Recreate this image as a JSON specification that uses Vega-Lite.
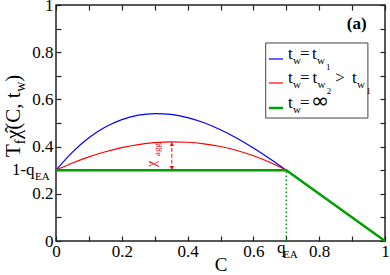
{
  "$schema": "https://vega.github.io/schema/vega-lite/v6.json",
  "width": 329,
  "height": 236,
  "autosize": {"type": "none"},
  "padding": {"left": 56, "top": 5, "right": 5, "bottom": 34},
  "background": "white",
  "config": {
    "view": {"stroke": "#222", "strokeWidth": 1.5},
    "font": "Liberation Serif",
    "axis": {
      "domain": false, "grid": false,
      "labelFont": "Liberation Serif", "labelFontSize": 17, "labelColor": "black",
      "tickColor": "#222", "tickWidth": 1.2,
      "labelFlush": false, "labelOverlap": false, "labelBound": false,
      "titleFont": "Liberation Serif", "titleFontWeight": "normal", "titleColor": "black"
    }
  },
  "datasets": {
    "curves": [
      {"C": 0.0, "v": 0.3, "series": "b", "seg": "curve"},
      {"C": 0.05, "v": 0.3766, "series": "b", "seg": "curve"},
      {"C": 0.1, "v": 0.4371, "series": "b", "seg": "curve"},
      {"C": 0.15, "v": 0.4827, "series": "b", "seg": "curve"},
      {"C": 0.2, "v": 0.5143, "series": "b", "seg": "curve"},
      {"C": 0.25, "v": 0.533, "series": "b", "seg": "curve"},
      {"C": 0.3, "v": 0.54, "series": "b", "seg": "curve"},
      {"C": 0.35, "v": 0.5362, "series": "b", "seg": "curve"},
      {"C": 0.4, "v": 0.5229, "series": "b", "seg": "curve"},
      {"C": 0.45, "v": 0.5009, "series": "b", "seg": "curve"},
      {"C": 0.5, "v": 0.4714, "series": "b", "seg": "curve"},
      {"C": 0.55, "v": 0.4355, "series": "b", "seg": "curve"},
      {"C": 0.6, "v": 0.3943, "series": "b", "seg": "curve"},
      {"C": 0.65, "v": 0.3487, "series": "b", "seg": "curve"},
      {"C": 0.7, "v": 0.3, "series": "b", "seg": "curve"},
      {"C": 0.0, "v": 0.3, "series": "r", "seg": "curve"},
      {"C": 0.05, "v": 0.3303, "series": "r", "seg": "curve"},
      {"C": 0.1, "v": 0.3563, "series": "r", "seg": "curve"},
      {"C": 0.15, "v": 0.3781, "series": "r", "seg": "curve"},
      {"C": 0.2, "v": 0.3955, "series": "r", "seg": "curve"},
      {"C": 0.25, "v": 0.4083, "series": "r", "seg": "curve"},
      {"C": 0.3, "v": 0.4165, "series": "r", "seg": "curve"},
      {"C": 0.35, "v": 0.42, "series": "r", "seg": "curve"},
      {"C": 0.4, "v": 0.4184, "series": "r", "seg": "curve"},
      {"C": 0.45, "v": 0.4119, "series": "r", "seg": "curve"},
      {"C": 0.5, "v": 0.4003, "series": "r", "seg": "curve"},
      {"C": 0.55, "v": 0.3834, "series": "r", "seg": "curve"},
      {"C": 0.6, "v": 0.3611, "series": "r", "seg": "curve"},
      {"C": 0.65, "v": 0.3334, "series": "r", "seg": "curve"},
      {"C": 0.7, "v": 0.3, "series": "r", "seg": "curve"},
      {"C": 0.647, "v": 0.7712, "series": "b", "seg": "legend"},
      {"C": 0.69, "v": 0.7712, "series": "b", "seg": "legend"},
      {"C": 0.647, "v": 0.6695, "series": "r", "seg": "legend"},
      {"C": 0.69, "v": 0.6695, "series": "r", "seg": "legend"}
    ],
    "green": [
      {"C": 0.0, "v": 0.3, "seg": "curve"},
      {"C": 0.7, "v": 0.3, "seg": "curve"},
      {"C": 1.0, "v": 0.0, "seg": "curve"},
      {"C": 0.647, "v": 0.5636, "seg": "legend"},
      {"C": 0.69, "v": 0.5636, "seg": "legend"}
    ],
    "dotted": [{"C": 0.7, "v": 0.0, "v2": 0.3}],
    "arrow": [{"C": 0.352, "v": 0.302, "v2": 0.418}],
    "heads": [
      {"C": 0.352, "v": 0.41, "dir": "up"},
      {"C": 0.352, "v": 0.31, "dir": "down"}
    ],
    "box": [{"x": 0.6374, "x2": 0.948, "y": 0.839, "y2": 0.521}],
    "texts": [
      {"x": 0.705, "y": 0.7712, "t": "t", "role": "lg"},
      {"x": 0.72, "y": 0.75, "t": "w", "role": "ls"},
      {"x": 0.742, "y": 0.7712, "t": "=", "role": "lg"},
      {"x": 0.778, "y": 0.7712, "t": "t", "role": "lg"},
      {"x": 0.793, "y": 0.75, "t": "w", "role": "ls"},
      {"x": 0.821, "y": 0.7246, "t": "1", "role": "lss"},
      {"x": 0.705, "y": 0.6695, "t": "t", "role": "lg"},
      {"x": 0.72, "y": 0.6483, "t": "w", "role": "ls"},
      {"x": 0.742, "y": 0.6695, "t": "=", "role": "lg"},
      {"x": 0.78, "y": 0.6695, "t": "t", "role": "lg"},
      {"x": 0.795, "y": 0.6483, "t": "w", "role": "ls"},
      {"x": 0.823, "y": 0.6229, "t": "2", "role": "lss"},
      {"x": 0.849, "y": 0.6695, "t": ">", "role": "lg"},
      {"x": 0.9, "y": 0.6695, "t": "t", "role": "lg"},
      {"x": 0.915, "y": 0.6483, "t": "w", "role": "ls"},
      {"x": 0.943, "y": 0.6229, "t": "1", "role": "lss"},
      {"x": 0.705, "y": 0.5636, "t": "t", "role": "lg"},
      {"x": 0.72, "y": 0.5424, "t": "w", "role": "ls"},
      {"x": 0.742, "y": 0.5636, "t": "=", "role": "lg"},
      {"x": 0.775, "y": 0.5636, "t": "∞", "role": "inf"},
      {"x": 0.884, "y": 0.898, "t": "(a)", "role": "pa"},
      {"x": -0.134, "y": 0.28, "t": "1-q", "role": "ab"},
      {"x": -0.064, "y": 0.258, "t": "EA", "role": "as"},
      {"x": 0.672, "y": -0.051, "t": "q", "role": "ab"},
      {"x": 0.69, "y": -0.072, "t": "EA", "role": "as"},
      {"x": -0.109, "y": 0.356, "t": "T", "role": "yb"},
      {"x": -0.094, "y": 0.41, "t": "f", "role": "ys"},
      {"x": -0.109, "y": 0.432, "t": "χ̂(C, t", "role": "yb"},
      {"x": -0.094, "y": 0.632, "t": "w", "role": "ys"},
      {"x": -0.109, "y": 0.675, "t": ")", "role": "yb"},
      {"x": 0.304, "y": 0.314, "t": "χ", "role": "chi"},
      {"x": 0.316, "y": 0.36, "t": "agg", "role": "agg"}
    ]
  },
  "layer": [
    {
      "data": {"name": "box"},
      "mark": {"type": "rect", "fill": "white", "stroke": "#444", "strokeWidth": 1},
      "encoding": {
        "x": {"field": "x", "type": "quantitative", "scale": {"domain": [0, 1], "nice": false, "zero": false},
          "axis": {"orient": "bottom", "values": [0, 0.1, 0.2, 0.3, 0.4, 0.5, 0.6, 0.7, 0.8, 0.9, 1], "tickSize": -5, "labelPadding": 7,
            "labelExpr": "round(datum.value*10)%2==0 ? format(datum.value, '~g') : ''", "title": "C", "titleFontSize": 19, "titlePadding": -4,
            "encode": {"ticks": {"update": {"y2": {"signal": "round(datum.value*10)%2==0 ? -5 : -2.5"}}}}}},
        "x2": {"field": "x2"},
        "y": {"field": "y", "type": "quantitative", "scale": {"domain": [0, 1], "nice": false, "zero": false},
          "axis": {"orient": "left", "values": [0, 0.1, 0.2, 0.3, 0.4, 0.5, 0.6, 0.7, 0.8, 0.9, 1], "tickSize": -5, "labelPadding": 8,
            "labelExpr": "round(datum.value*10)%2==0 ? format(datum.value, '~g') : ''", "title": null,
            "encode": {"ticks": {"update": {"x2": {"signal": "round(datum.value*10)%2==0 ? 5 : 2.5"}}}}}},
        "y2": {"field": "y2"}
      }
    },
    {
      "data": {"name": "curves"},
      "mark": {"type": "line", "strokeWidth": 1.2, "interpolate": "monotone"},
      "encoding": {
        "x": {"field": "C", "type": "quantitative",
          "axis": {"orient": "top", "values": [0, 0.1, 0.2, 0.3, 0.4, 0.5, 0.6, 0.7, 0.8, 0.9, 1], "tickSize": -5, "labels": false, "title": null,
            "encode": {"ticks": {"update": {"y2": {"signal": "round(datum.value*10)%2==0 ? 5 : 2.5"}}}}}},
        "y": {"field": "v", "type": "quantitative",
          "axis": {"orient": "right", "values": [0, 0.1, 0.2, 0.3, 0.4, 0.5, 0.6, 0.7, 0.8, 0.9, 1], "tickSize": -5, "labels": false, "title": null,
            "encode": {"ticks": {"update": {"x2": {"signal": "round(datum.value*10)%2==0 ? -5 : -2.5"}}}}}},
        "color": {"field": "series", "type": "nominal", "scale": {"domain": ["b", "r"], "range": ["#0000ff", "#ff0000"]}, "legend": null},
        "detail": {"field": "seg"}
      }
    },
    {
      "data": {"name": "green"},
      "mark": {"type": "line", "strokeWidth": 2.5, "color": "#00a000"},
      "encoding": {
        "x": {"field": "C", "type": "quantitative", "axis": null},
        "y": {"field": "v", "type": "quantitative", "axis": null},
        "detail": {"field": "seg"}
      }
    },
    {
      "data": {"name": "dotted"},
      "mark": {"type": "rule", "color": "#00a000", "strokeWidth": 1.5, "strokeDash": [1.5, 2.5]},
      "encoding": {
        "x": {"field": "C", "type": "quantitative", "axis": null},
        "y": {"field": "v", "type": "quantitative", "axis": null},
        "y2": {"field": "v2"}
      }
    },
    {
      "data": {"name": "arrow"},
      "mark": {"type": "rule", "color": "#ff0000", "strokeWidth": 1, "strokeDash": [4, 2]},
      "encoding": {
        "x": {"field": "C", "type": "quantitative", "axis": null},
        "y": {"field": "v", "type": "quantitative", "axis": null},
        "y2": {"field": "v2"}
      }
    },
    {
      "data": {"name": "heads"},
      "mark": {"type": "point", "filled": true, "color": "#ff0000", "size": 18, "opacity": 1},
      "encoding": {
        "x": {"field": "C", "type": "quantitative", "axis": null},
        "y": {"field": "v", "type": "quantitative", "axis": null},
        "shape": {"field": "dir", "type": "nominal", "scale": {"domain": ["up", "down"], "range": ["triangle-up", "triangle-down"]}, "legend": null}
      }
    },
    {
      "data": {"name": "texts"},
      "transform": [{"filter": "datum.role == 'lg' || datum.role == 'ab'"}],
      "mark": {"type": "text", "align": "left", "baseline": "alphabetic", "fontSize": 17, "font": "Liberation Serif", "color": "black"},
      "encoding": {"x": {"field": "x", "type": "quantitative", "axis": null}, "y": {"field": "y", "type": "quantitative", "axis": null}, "text": {"field": "t"}}
    },
    {
      "data": {"name": "texts"},
      "transform": [{"filter": "datum.role == 'ls' || datum.role == 'as'"}],
      "mark": {"type": "text", "align": "left", "baseline": "alphabetic", "fontSize": 11, "font": "Liberation Serif", "color": "black"},
      "encoding": {"x": {"field": "x", "type": "quantitative", "axis": null}, "y": {"field": "y", "type": "quantitative", "axis": null}, "text": {"field": "t"}}
    },
    {
      "data": {"name": "texts"},
      "transform": [{"filter": "datum.role == 'lss'"}],
      "mark": {"type": "text", "align": "left", "baseline": "alphabetic", "fontSize": 9, "font": "Liberation Serif", "color": "black"},
      "encoding": {"x": {"field": "x", "type": "quantitative", "axis": null}, "y": {"field": "y", "type": "quantitative", "axis": null}, "text": {"field": "t"}}
    },
    {
      "data": {"name": "texts"},
      "transform": [{"filter": "datum.role == 'inf'"}],
      "mark": {"type": "text", "align": "left", "baseline": "alphabetic", "fontSize": 22, "font": "DejaVu Sans", "color": "black"},
      "encoding": {"x": {"field": "x", "type": "quantitative", "axis": null}, "y": {"field": "y", "type": "quantitative", "axis": null}, "text": {"field": "t"}}
    },
    {
      "data": {"name": "texts"},
      "transform": [{"filter": "datum.role == 'pa'"}],
      "mark": {"type": "text", "align": "left", "baseline": "alphabetic", "fontSize": 17, "fontWeight": "bold", "font": "Liberation Serif", "color": "black"},
      "encoding": {"x": {"field": "x", "type": "quantitative", "axis": null}, "y": {"field": "y", "type": "quantitative", "axis": null}, "text": {"field": "t"}}
    },
    {
      "data": {"name": "texts"},
      "transform": [{"filter": "datum.role == 'yb'"}],
      "mark": {"type": "text", "align": "left", "baseline": "alphabetic", "angle": 270, "fontSize": 21, "font": "Liberation Serif", "color": "black"},
      "encoding": {"x": {"field": "x", "type": "quantitative", "axis": null}, "y": {"field": "y", "type": "quantitative", "axis": null}, "text": {"field": "t"}}
    },
    {
      "data": {"name": "texts"},
      "transform": [{"filter": "datum.role == 'ys'"}],
      "mark": {"type": "text", "align": "left", "baseline": "alphabetic", "angle": 270, "fontSize": 14, "font": "Liberation Serif", "color": "black"},
      "encoding": {"x": {"field": "x", "type": "quantitative", "axis": null}, "y": {"field": "y", "type": "quantitative", "axis": null}, "text": {"field": "t"}}
    },
    {
      "data": {"name": "texts"},
      "transform": [{"filter": "datum.role == 'chi'"}],
      "mark": {"type": "text", "align": "left", "baseline": "alphabetic", "angle": 270, "fontSize": 14, "font": "Liberation Serif", "color": "#ff0000"},
      "encoding": {"x": {"field": "x", "type": "quantitative", "axis": null}, "y": {"field": "y", "type": "quantitative", "axis": null}, "text": {"field": "t"}}
    },
    {
      "data": {"name": "texts"},
      "transform": [{"filter": "datum.role == 'agg'"}],
      "mark": {"type": "text", "align": "left", "baseline": "alphabetic", "angle": 270, "fontSize": 9, "font": "Liberation Serif", "color": "#ff0000"},
      "encoding": {"x": {"field": "x", "type": "quantitative", "axis": null}, "y": {"field": "y", "type": "quantitative", "axis": null}, "text": {"field": "t"}}
    }
  ]
}
